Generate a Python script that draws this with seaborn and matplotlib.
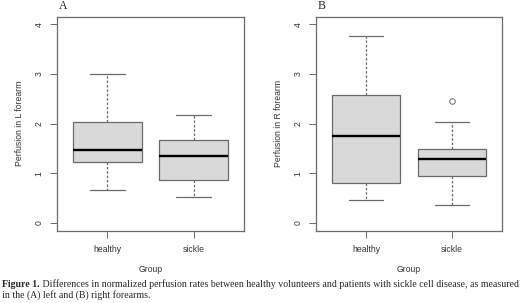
import pandas as pd
import matplotlib.pyplot as plt
import seaborn as sns

sns.set_theme(style="ticks")
plt.rcParams["font.family"] = ["Liberation Sans", "DejaVu Sans"]

# five-number summaries (min, q1, median, q3, max)
groups = ["healthy", "sickle"]
left_healthy = [0.66, 1.22, 1.46, 2.03, 3.00]
left_sickle = [0.52, 0.86, 1.35, 1.66, 2.17]
right_healthy = [0.46, 0.80, 1.75, 2.57, 3.77]
right_sickle = [0.35, 0.95, 1.29, 1.49, 2.03]
right_sickle_outliers = [2.46]
y_ticks = [0, 1, 2, 3, 4]

left = pd.DataFrame({"group": ["healthy"] * 5 + ["sickle"] * 5,
                     "value": left_healthy + left_sickle})
right = pd.DataFrame({"group": ["healthy"] * 5 + ["sickle"] * 5,
                      "value": right_healthy + right_sickle})

edge = "#6a6a6a"
txt = "#333333"
fs = 6.2
fig = plt.figure(figsize=(5.2, 3.03), dpi=100)
ax_a = fig.add_axes([57 / 520, 72.3 / 303, 187 / 520, 214.2 / 303])
ax_b = fig.add_axes([316 / 520, 72.3 / 303, 186 / 520, 214.2 / 303])

panels = [(ax_a, left, "Perfusion in L forearm", "A"),
          (ax_b, right, "Perfusion in R forearm", "B")]
for ax, df, ylab, letter in panels:
    sns.boxplot(data=df, x="group", y="value", order=groups, ax=ax,
                width=0.8, color="#d9d9d9", whis=(0, 100), showfliers=False,
                linecolor=edge, linewidth=0.9, saturation=1,
                medianprops=dict(color="black", linewidth=1.7),
                whiskerprops=dict(linestyle=(0, (2, 1.5)), color=edge),
                capprops=dict(color=edge))
    ax.text(0.01, 1.02, letter, transform=ax.transAxes, fontsize=8.5,
            family="Liberation Serif", ha="left", va="bottom")

# outlier in the right panel
out_df = pd.DataFrame({"group": ["sickle"] * len(right_sickle_outliers),
                       "value": right_sickle_outliers})
sns.stripplot(data=out_df, x="group", y="value", order=groups, ax=ax_b,
              jitter=False, color="white", edgecolor=edge, linewidth=0.7,
              size=4, marker="o", zorder=5)

for ax, _, ylab, _ in panels:
    ax.set_xlim(-0.58, 1.58)
    ax.set_ylim(-0.16, 4.16)
    ax.set_yticks(y_ticks)
    ax.set_yticklabels([str(t) for t in y_ticks], rotation=90, va="center")
    ax.set_xlabel("Group", fontsize=fs, labelpad=8.5, color=txt)
    ax.set_ylabel(ylab, fontsize=fs, labelpad=8, color=txt)
    ax.tick_params(axis="both", labelsize=fs, length=5, width=0.7,
                   color=edge, labelcolor=txt)
    ax.tick_params(axis="y", pad=4.5)
    ax.tick_params(axis="x", pad=5.0)
    for s in ax.spines.values():
        s.set_color(edge)
        s.set_linewidth(0.9)
        s.set_visible(True)

cap = fig.text(2 / 520, 1 - 284.5 / 303, "Figure 1.", fontsize=7.1,
               family="Liberation Serif", weight="bold", va="center")
ax_a.annotate(" Differences in normalized perfusion rates between healthy volunteers "
              "and patients with sickle cell disease, as measured",
              xy=(1, 0), xycoords=cap, va="bottom", fontsize=7.1,
              family="Liberation Serif", annotation_clip=False)
fig.text(2 / 520, 1 - 295.5 / 303, "in the (A) left and (B) right forearms.",
         fontsize=7.1, family="Liberation Serif", va="center")

fig.savefig("out.png", dpi=100)
